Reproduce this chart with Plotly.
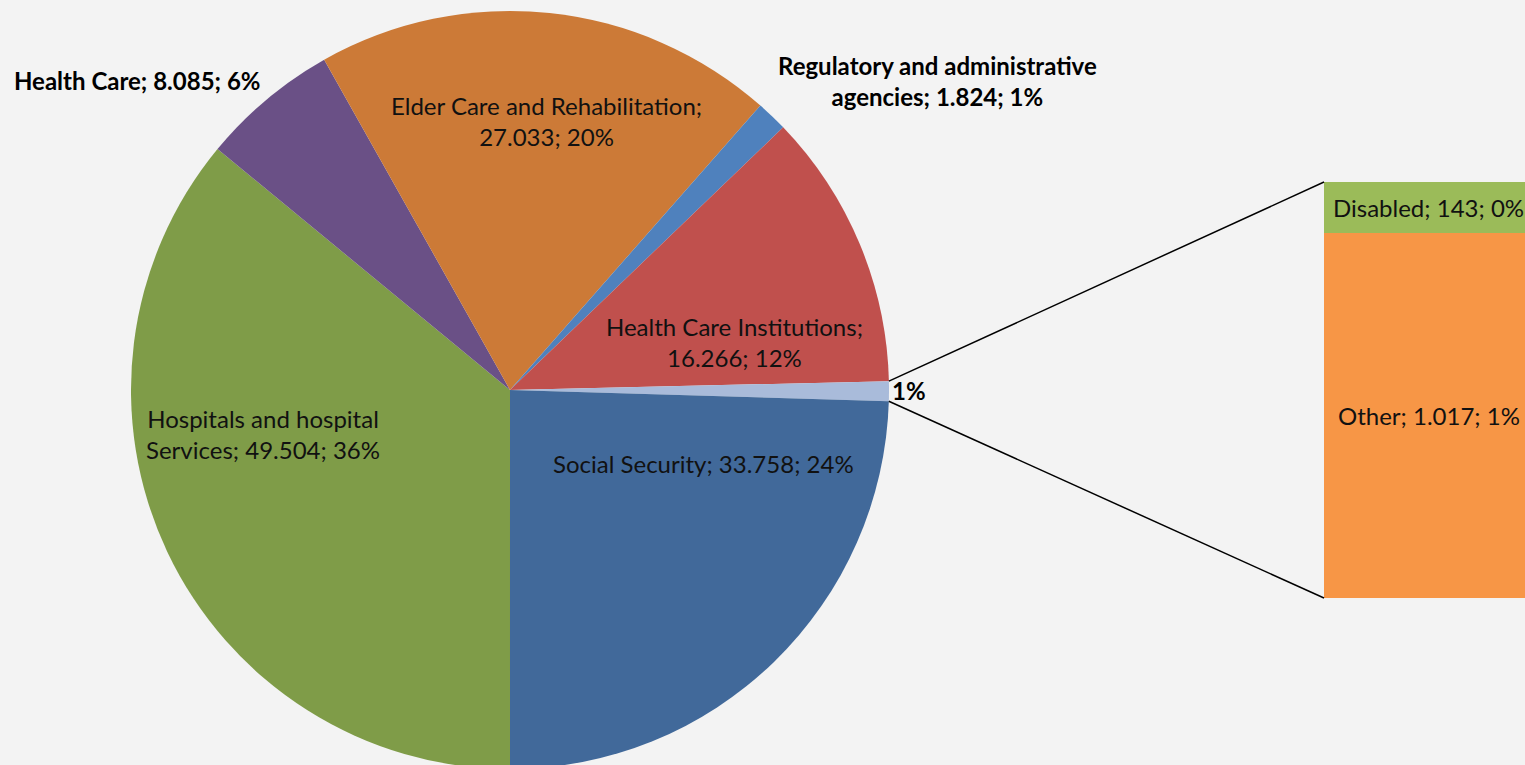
import math
import textwrap
import plotly.graph_objects as go

# ---- data ----
pie_labels = ["Hospitals and hospital Services", "Health Care", "Elder Care and Rehabilitation",
              "Regulatory and administrative agencies", "Health Care Institutions", "Other",
              "Social Security"]
pie_values = [49504, 8085, 27033, 1824, 16266, None, 33758]
pie_pct = [36, 6, 20, 1, 12, 1, 24]

bar_labels = ["Other", "Disabled"]
bar_values = [1017, 143]
bar_pct = [1, 0]

pie_colors = ["#7F9C48", "#6A5086", "#CC7A37", "#4F81BD", "#C0504D", "#A9BBDA", "#41699A"]
bar_colors = ["#F79646", "#9BBB59"]

other_total = sum(bar_values)
pie_values = [other_total if v is None else v for v in pie_values]
total = sum(pie_values)

W, H = 1525, 780
BG = "#F3F3F3"
FONT = "Lato"
FS = 24

# pie geometry (pixels, from top-left)
cx, cy, r = 510, 390, 379
bar_left, bar_top, bar_bottom = 1324, 182, 598


def P(x, y):
    return x / W, 1 - y / H


def fmt(v):
    return f"{v:,}".replace(",", ".")


fig = go.Figure()
fig.add_trace(go.Pie(
    labels=pie_labels, values=pie_values, sort=False, direction="clockwise",
    rotation=180, textinfo="none", hoverinfo="label+value+percent",
    marker=dict(colors=pie_colors, line=dict(width=0)),
    domain=dict(x=[(cx - r) / W, (cx + r) / W], y=[0, 1]),
    showlegend=False,
))

for lab, v, c in zip(bar_labels, bar_values, bar_colors):
    fig.add_trace(go.Bar(x=[0], y=[v], name=lab, marker=dict(color=c, line=dict(width=0)),
                         width=1, showlegend=False, xaxis="x", yaxis="y"))

fig.update_layout(
    width=W, height=H, margin=dict(l=0, r=0, t=0, b=0),
    paper_bgcolor=BG, plot_bgcolor="rgba(0,0,0,0)", barmode="stack",
    xaxis=dict(domain=[bar_left / W, 1], range=[-0.5, 0.5], visible=False, fixedrange=True),
    yaxis=dict(domain=[1 - bar_bottom / H, 1 - bar_top / H], range=[0, other_total],
               visible=False, fixedrange=True),
    font=dict(family=FONT, color="#111111"),
)

# label placement (pixel centers) and wrap widths
pie_label_pos = [(263, 434, 22, False), (137, 81, 40, True), (546, 121, 30, False),
                 (938, 81, 29, True), (734, 342, 25, False), (909, 390, 0, True),
                 (703, 463, 40, False)]
annotations = []
for lab, v, pct, (x, y, w, bold) in zip(pie_labels, pie_values, pie_pct, pie_label_pos):
    if lab == "Other":
        txt = f"{pct}%"
    else:
        txt = "<br>".join(textwrap.wrap(f"{lab}; {fmt(v)}; {pct}%", width=w))
    if bold:
        txt = f"<b>{txt}</b>"
    xp, yp = P(x, y)
    annotations.append(dict(x=xp, y=yp, xref="paper", yref="paper", text=txt, showarrow=False,
                            font=dict(size=FS, family=FONT, color="#000000" if bold else "#111111"),
                            align="center", xanchor="center", yanchor="middle"))

# bar labels centered in each segment
cum = 0
for lab, v, pct in zip(bar_labels, bar_values, bar_pct):
    annotations.append(dict(x=0.02, y=cum + v / 2, xref="x", yref="y",
                            text=f"{lab}; {fmt(v)}; {pct}%", showarrow=False,
                            font=dict(size=FS, family=FONT, color="#111111"),
                            xanchor="center", yanchor="middle"))
    cum += v
fig.update_layout(annotations=annotations)

# connector lines from the "Other" slice edge to the bar corners
idx = pie_labels.index("Other")
a0 = math.radians(180 + sum(pie_values[:idx]) / total * 360)
a1 = math.radians(180 + sum(pie_values[:idx + 1]) / total * 360)
p0 = (cx + r * math.sin(a0), cy - r * math.cos(a0))
p1 = (cx + r * math.sin(a1), cy - r * math.cos(a1))
for (sx, sy), (ex, ey) in [(p0, (bar_left, bar_top)), (p1, (bar_left, bar_bottom))]:
    x0, y0 = P(sx, sy)
    x1, y1 = P(ex, ey)
    fig.add_shape(type="line", xref="paper", yref="paper", x0=x0, y0=y0, x1=x1, y1=y1,
                  line=dict(color="#000000", width=1.5))

fig.write_html("out.html", config={"displayModeBar": False},
               post_script="document.body.style.margin='0';document.body.style.overflow='hidden';")
